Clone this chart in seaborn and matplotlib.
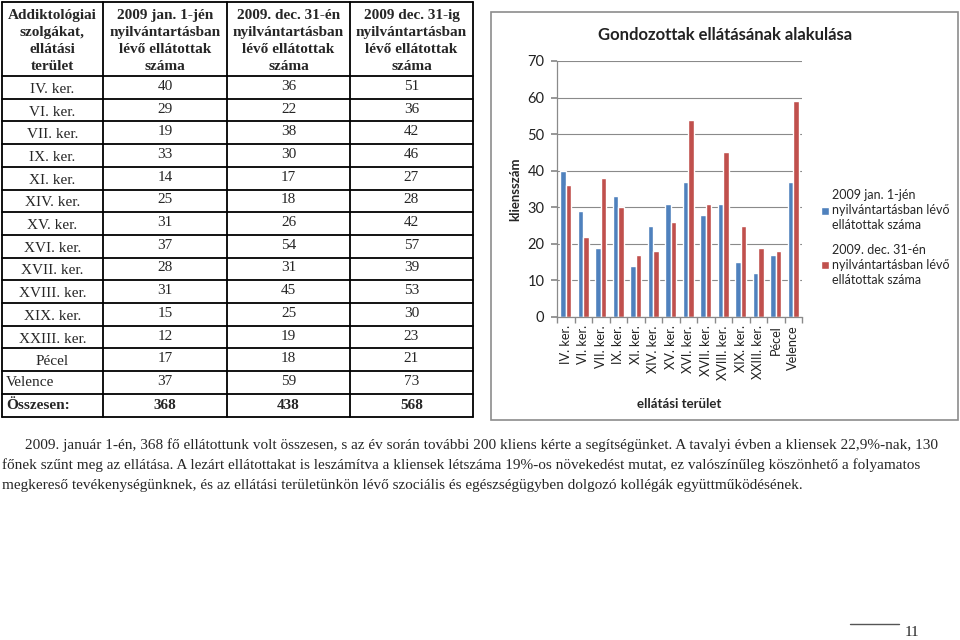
import matplotlib
matplotlib.use("Agg")
import matplotlib.pyplot as plt
import pandas as pd
import seaborn as sns

areas = ["IV. ker.", "VI. ker.", "VII. ker.", "IX. ker.", "XI. ker.", "XIV. ker.",
         "XV. ker.", "XVI. ker.", "XVII. ker.", "XVIII. ker.", "XIX. ker.",
         "XXIII. ker.", "Pécel", "Velence"]
jan1 = [40, 29, 19, 33, 14, 25, 31, 37, 28, 31, 15, 12, 17, 37]
dec31 = [36, 22, 38, 30, 17, 18, 26, 54, 31, 45, 25, 19, 18, 59]
dec31_ig = [51, 36, 42, 46, 27, 28, 42, 57, 39, 53, 30, 23, 21, 73]
totals = [368, 438, 568]

headers = ["Addiktológiai\nszolgákat,\nellátási\nterület",
           "2009 jan. 1-jén\nnyilvántartásban\nlévő ellátottak\nszáma",
           "2009. dec. 31-én\nnyilvántartásban\nlévő ellátottak\nszáma",
           "2009 dec. 31-ig\nnyilvántartásban\nlévő ellátottak\nszáma"]
series_names = ["2009 jan. 1-jén\nnyilvántartásban lévő\nellátottak száma",
                "2009. dec. 31-én\nnyilvántartásban lévő\nellátottak száma"]
colors = ["#4F81BD", "#C0504D"]

paragraph = [
    "2009. január 1-én, 368 fő ellátottunk volt összesen, s az év során további 200 kliens kérte a segítségünket. A tavalyi évben a kliensek 22,9%-nak, 130",
    "főnek szűnt meg az ellátása. A lezárt ellátottakat is leszámítva a kliensek létszáma 19%-os növekedést mutat, ez valószínűleg köszönhető a folyamatos",
    "megkereső tevékenységünknek, és az ellátási területünkön lévő szociális és egészségügyben dolgozó kollégák együttműködésének.",
]

sns.set_theme(style="white")
plt.rcParams["font.family"] = ["Liberation Serif", "DejaVu Sans"]

fig = plt.figure(figsize=(9.6, 6.4), dpi=100)

# overlay in pixel coordinates for the table, frame and text
bg = fig.add_axes([0, 0, 1, 1], zorder=0)
bg.set_xlim(0, 960)
bg.set_ylim(640, 0)
bg.axis("off")

# --- table ---
cols = [2, 103, 227, 350, 473]
top, head_bot, row_h = 2, 76, 22.7
n_rows = len(areas) + 1
bottom = head_bot + row_h * n_rows
for x in cols:
    bg.plot([x, x], [top, bottom], color="black", lw=1.3)
bg.plot([cols[0], cols[-1]], [top, top], color="black", lw=1.3)
bg.plot([cols[0], cols[-1]], [head_bot, head_bot], color="black", lw=1.3)
for i in range(n_rows):
    y = head_bot + row_h * (i + 1)
    bg.plot([cols[0], cols[-1]], [y, y], color="black", lw=1.3)

for j, h in enumerate(headers):
    cx = (cols[j] + cols[j + 1]) / 2
    bg.text(cx, (top + head_bot) / 2 + 2, h, ha="center", va="center",
            fontsize=11, fontweight="bold", linespacing=1.4)

for i, name in enumerate(areas):
    yc = head_bot + row_h * i + row_h / 2
    if name == "Velence":
        bg.text(cols[0] + 4, yc, name, ha="left", va="center", fontsize=11)
    else:
        bg.text((cols[0] + cols[1]) / 2, yc + 2, name, ha="center", va="center", fontsize=11)
    for j, v in enumerate([jan1[i], dec31[i], dec31_ig[i]]):
        cx = (cols[j + 1] + cols[j + 2]) / 2
        bg.text(cx, yc - 1, str(v), ha="center", va="center", fontsize=11)

yc = head_bot + row_h * len(areas) + row_h / 2
bg.text(cols[0] + 4, yc, "Összesen:", ha="left", va="center", fontsize=11, fontweight="bold")
for j, v in enumerate(totals):
    cx = (cols[j + 1] + cols[j + 2]) / 2
    bg.text(cx, yc, str(v), ha="center", va="center", fontsize=11, fontweight="bold")

# --- chart frame ---
bg.add_patch(plt.Rectangle((491, 12), 467, 408, fill=False, edgecolor="#8c8c8c", lw=1.2))

# --- paragraph ---
bg.text(25, 445, paragraph[0], ha="left", va="center", fontsize=11)
bg.text(2, 465, paragraph[1], ha="left", va="center", fontsize=11)
bg.text(2, 485, paragraph[2], ha="left", va="center", fontsize=11)

# page number
bg.plot([850, 899], [624, 624], color="#555555", lw=1)
bg.text(905, 633, "11", ha="left", va="center", fontsize=11)

# --- bar chart ---
chart_font = ["Lato", "DejaVu Sans"]
df = pd.DataFrame({
    "terulet": areas * 2,
    "ertek": jan1 + dec31,
    "sorozat": [series_names[0]] * len(areas) + [series_names[1]] * len(areas),
})
ax = fig.add_axes([557 / 960, 1 - 317 / 640, 245 / 960, 256 / 640], zorder=1)
ax.patch.set_alpha(0)
sns.barplot(data=df, x="terulet", y="ertek", hue="sorozat", palette=colors,
            width=0.64, saturation=1, ax=ax, legend=True)
ax.set_ylim(0, 70)
ax.set_xlim(-0.5, len(areas) - 0.5)
ax.set_yticks(range(0, 71, 10))
ax.yaxis.grid(True, color="#8a8a8a", lw=0.8)
ax.set_axisbelow(True)
for s in ["top", "right"]:
    ax.spines[s].set_visible(False)
for s in ["left", "bottom"]:
    ax.spines[s].set_color("#8a8a8a")
    ax.spines[s].set_linewidth(0.9)
ax.tick_params(axis="y", left=True, length=4, color="#8a8a8a", labelsize=10.5, pad=5)
ax.set_xticks(range(len(areas)))
ax.set_xticklabels(areas, rotation=90)
ax.set_xticks([i - 0.5 for i in range(len(areas) + 1)], minor=True)
ax.tick_params(axis="x", which="major", length=0, labelsize=9.2, pad=6)
ax.tick_params(axis="x", which="minor", bottom=True, length=4, color="#8a8a8a")
for lab in ax.get_xticklabels() + ax.get_yticklabels():
    lab.set_family(chart_font)
    lab.set_color("#222222")

ax.set_ylabel("kliensszám", fontsize=9.5, fontweight="bold", family=chart_font)
ax.yaxis.set_label_coords(-0.145, 0.5)
ax.set_xlabel("ellátási terület", fontsize=9.5, fontweight="bold", family=chart_font)
ax.xaxis.set_label_coords(0.5, -0.316)

fig.text(725 / 960, 1 - 35 / 640, "Gondozottak ellátásának alakulása", ha="center", va="center",
         fontsize=12, fontweight="bold", family=chart_font, color="#222222")

handles, labels = ax.get_legend_handles_labels()
ax.legend_.remove()
leg = fig.legend(handles, labels, loc="upper left", bbox_to_anchor=(810 / 960, 1 - 178 / 640),
                 frameon=False, prop={"family": chart_font, "size": 9},
                 handlelength=0.6, handleheight=0.6, handletextpad=0.3, labelspacing=1.0)
for t in leg.get_texts():
    t.set_linespacing(1.3)

fig.savefig("out.png", dpi=100)
